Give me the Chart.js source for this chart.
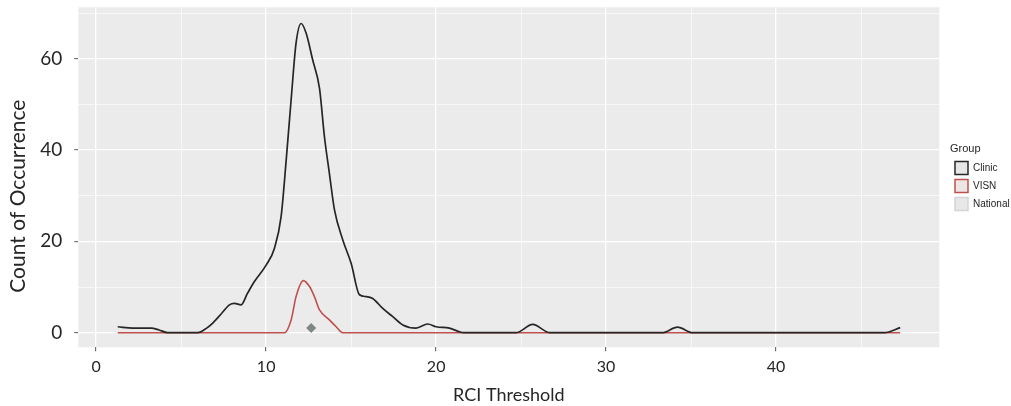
<!DOCTYPE html>
<html>
<head>
<meta charset="utf-8">
<script src="https://cdn.jsdelivr.net/npm/chart.js@4/dist/chart.umd.min.js"></script>
<style>
  html, body { margin: 0; padding: 0; background: #ffffff; }
  #wrap { width: 1011px; height: 406px; position: relative; }
</style>
</head>
<body>
<div id="wrap"><canvas id="c"></canvas></div>
<script>
// ---- data ----
const clinicX = [1.27, 2.15, 3.24, 3.7, 4.2, 5.98, 6.5, 6.86, 7.4, 7.84, 8.14, 8.53, 8.9, 9.31, 10.0, 10.49, 10.88, 11.18, 11.47, 11.76, 12.06, 12.35, 12.74, 13.14, 13.43, 13.72, 14.02, 14.51, 15.0, 15.49, 15.88, 16.27, 16.86, 17.45, 18.04, 18.82, 19.51, 20.0, 20.78, 21.37, 21.6, 24.7, 25.68, 26.7, 33.3, 34.2, 35.1, 46.37, 47.3];
const clinicY = [1.3, 1.0, 1.0, 0.6, 0, 0, 1.0, 2.1, 4.3, 6.1, 6.4, 6.1, 8.6, 11.2, 14.8, 18.5, 25.4, 37.8, 51.0, 63.4, 67.7, 65.6, 59.7, 53.5, 42.9, 34.9, 26.9, 20.3, 15.2, 8.3, 7.9, 7.5, 5.3, 3.5, 1.7, 1.0, 1.9, 1.3, 1.0, 0.2, 0, 0, 1.8, 0, 0, 1.2, 0, 0, 1.1];
const visnX = [1.27, 11.08, 11.47, 11.76, 12.19, 12.55, 12.84, 13.14, 13.72, 14.12, 14.5, 47.3];
const visnY = [0, 0, 2.8, 7.9, 11.4, 10.1, 7.9, 5.0, 2.8, 1.3, 0, 0];
const nationalX = [];
const nationalY = [];
const markerX = [12.65];
const markerY = [1.0];
const groupLabels = ['Clinic', 'VISN', 'National'];
const xTickLabels = [0, 10, 20, 30, 40];
const yTickLabels = [0, 20, 40, 60];

const pts = (xs, ys) => xs.map((x, i) => ({ x: x, y: ys[i] }));

const panelBg = {
  id: 'panelBg',
  beforeDraw(chart) {
    const a = chart.chartArea, ctx = chart.ctx;
    ctx.save();
    ctx.fillStyle = '#ebebeb';
    ctx.fillRect(a.left, a.top, a.right - a.left, a.bottom - a.top);
    ctx.restore();
  }
};

const textColor = '#262626';

new Chart(document.getElementById('c'), {
  type: 'line',
  data: {
    datasets: [
      { label: groupLabels[0], data: pts(clinicX, clinicY), borderColor: '#262626', backgroundColor: '#262626',
        borderWidth: 1.7, pointRadius: 0, cubicInterpolationMode: 'monotone', yAxisID: 'y', legendFill: '#e6e6e6' },
      { label: groupLabels[1], data: pts(visnX, visnY), borderColor: '#c0504d', backgroundColor: '#c0504d',
        borderWidth: 1.6, pointRadius: 0, cubicInterpolationMode: 'monotone', yAxisID: 'y', legendFill: '#ece6e6' },
      { label: groupLabels[2], data: pts(nationalX, nationalY), borderColor: '#d4d4d4', backgroundColor: '#d4d4d4',
        borderWidth: 1.5, pointRadius: 0, yAxisID: 'y', legendFill: '#e8e8e8' },
      { label: 'marker', type: 'scatter', data: pts(markerX, markerY), pointStyle: 'rectRot', pointRadius: 5,
        backgroundColor: '#7d8785', borderColor: '#7d8785', borderWidth: 0, yAxisID: 'y', hideInLegend: true }
    ]
  },
  options: {
    responsive: true,
    maintainAspectRatio: false,
    animation: false,
    layout: { padding: { top: 7.3, left: 0, right: 0, bottom: 0 } },
    plugins: {
      tooltip: { enabled: false },
      legend: {
        display: true,
        position: 'right',
        align: 'center',
        fullSize: false,
        maxWidth: 61,
        title: { display: true, text: 'Group', color: textColor, position: 'start',
                 font: { family: 'Liberation Sans', size: 11 }, padding: { top: 4, bottom: 0 } },
        labels: {
          boxWidth: 13, boxHeight: 13, padding: 5, color: textColor,
          font: { family: 'Liberation Sans', size: 10 },
          generateLabels(chart) {
            return chart.data.datasets
              .map((ds, i) => ({ ds, i }))
              .filter(o => !o.ds.hideInLegend)
              .map(o => ({ text: o.ds.label, fillStyle: o.ds.legendFill, strokeStyle: o.ds.borderColor,
                           lineWidth: 1.5, hidden: false, datasetIndex: o.i, fontColor: textColor }));
          }
        }
      }
    },
    scales: {
      x: {
        type: 'linear', position: 'bottom', min: -1.05, max: 49.6,
        afterFit(s) { s.height = 58.7; s.paddingLeft = 0; s.paddingRight = 0; },
        border: { display: false },
        grid: {
          color: '#ffffff',
          lineWidth: c => (c.tick && xTickLabels.includes(c.tick.value)) ? 1.3 : 0.6,
          drawTicks: true, tickLength: 4, tickWidth: 1,
          tickColor: c => (c.tick && xTickLabels.includes(c.tick.value)) ? '#555555' : 'rgba(0,0,0,0)'
        },
        ticks: {
          stepSize: 5, includeBounds: false, autoSkip: false, maxRotation: 0, padding: 6,
          color: textColor, font: { family: 'Lato', size: 16 },
          callback: v => xTickLabels.includes(v) ? String(v) : ''
        },
        title: { display: true, text: 'RCI Threshold', color: textColor,
                 font: { family: 'Lato', size: 18 }, padding: { top: 0, bottom: 0 } }
      },
      y: {
        type: 'linear', position: 'left', min: -3.2, max: 71.25,
        afterFit(s) { s.width = 78.3; s.paddingTop = 0; s.paddingBottom = 0; },
        border: { display: false },
        grid: {
          color: '#ffffff',
          lineWidth: c => (c.tick && yTickLabels.includes(c.tick.value)) ? 1.3 : 0.6,
          drawTicks: true, tickLength: 4, tickWidth: 1,
          tickColor: c => (c.tick && yTickLabels.includes(c.tick.value)) ? '#555555' : 'rgba(0,0,0,0)'
        },
        ticks: {
          stepSize: 10, includeBounds: false, autoSkip: false, padding: 12,
          color: textColor, font: { family: 'Lato', size: 19 },
          callback: v => yTickLabels.includes(v) ? String(v) : ''
        },
        title: { display: true, text: 'Count of Occurrence       ', color: textColor,
                 font: { family: 'Lato', size: 21 }, padding: { top: 6, bottom: 0 } }
      },
      spacer: {
        type: 'linear', position: 'right', display: true,
        afterFit(s) { s.width = 10.7; s.paddingTop = 0; s.paddingBottom = 0; },
        border: { display: false },
        grid: { display: false, drawTicks: false },
        ticks: { display: false }
      }
    }
  },
  plugins: [panelBg]
});
</script>
</body>
</html>
